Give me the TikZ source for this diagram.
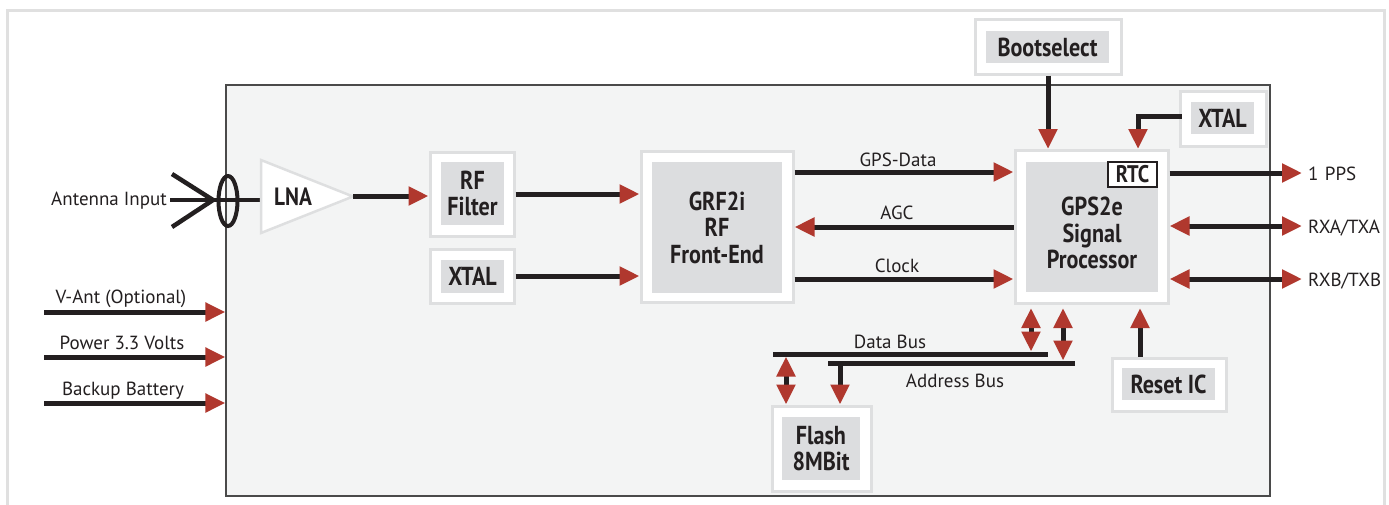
\documentclass[tikz,border=0pt]{standalone}
\usepackage{fontspec}
\setmainfont{PT Sans}
\newfontfamily\condb{PT Sans}[FakeStretch=0.85]
\usetikzlibrary{arrows.meta,calc}
\definecolor{arrred}{HTML}{B0382E}
\definecolor{lineblack}{HTML}{231F20}
\definecolor{txt}{HTML}{231F20}
\definecolor{boxline}{HTML}{DEDFE0}
\definecolor{innergray}{HTML}{DCDDDF}
\definecolor{modfill}{HTML}{F3F4F4}
\definecolor{modline}{HTML}{4A4A4A}
\definecolor{frame}{HTML}{E0E0E0}
\tikzset{
  obox/.style={draw=boxline, line width=3pt, fill=white, inner sep=0pt},
  ibox/.style={fill=innergray, inner sep=0pt, align=center, text=txt,
    font=\condb\bfseries\fontsize{26}{26.5}\selectfont},
  conn/.style={draw=lineblack, line width=5pt, -{Triangle[length=20pt,width=18pt,color=arrred]}},
  dconn/.style={draw=lineblack, line width=5pt, {Triangle[length=20pt,width=18pt,color=arrred]}-{Triangle[length=20pt,width=18pt,color=arrred]}},
  wire/.style={draw=lineblack, line width=5pt},
  lab/.style={font=\fontsize{19}{22}\selectfont, text=txt, inner sep=0pt},
}
\begin{document}
\begin{tikzpicture}[x=1pt,y=-1pt]
\useasboundingbox (0,0) rectangle (1389,504);
\fill[white] (0,0) rectangle (1389,504);
% outer frame
\draw[frame, line width=3pt] (7,10) rectangle (1384,530);
% module
\node[draw=modline, line width=1.2pt, fill=modfill, minimum width=1044pt, minimum height=411pt, inner sep=0pt] (mod) at (748,290.5) {};

% antenna
\coordinate (antin) at (170,200);
\coordinate (lnain) at (261,200);
\draw[wire, line width=4.5pt] (antin) -- (lnain);
\draw[wire, line width=4.5pt] (172,174) -- (213,200) -- (172,227);
\draw[lineblack, line width=4pt] (228,201) ellipse [x radius=9.5pt, y radius=25pt];
\node[lab, anchor=base east] (antlab) at (167,205) {Antenna Input};

% LNA
\draw[boxline, line width=2.5pt, fill=white] (261,160) -- (353,196.5) -- (261,233) -- cycle;
\coordinate (lnaout) at (353,196);
\node[font=\condb\bfseries\fontsize{25}{26}\selectfont, text=txt, inner sep=0pt] (lna) at (293,197) {LNA};

% boxes
\node[obox, minimum width=84pt, minimum height=84pt] (rff) at (472,194) {};
\node[ibox, minimum width=63pt, minimum height=63pt] (rffi) at (472.5,193.5) {RF\\Filter};
\node[obox, minimum width=84pt, minimum height=54pt] (xtal1) at (472,276) {};
\node[ibox, minimum width=63pt, minimum height=33pt] (xtal1i) at (472.5,276.5) {XTAL};
\node[obox, minimum width=152pt, minimum height=151pt] (grf) at (717,227) {};
\node[ibox, minimum width=130pt, minimum height=131pt] (grfi) at (717,227.5) {GRF2i\\RF\\Front-End};
\node[obox, minimum width=153pt, minimum height=153pt] (gps) at (1091.5,227) {};
\node[ibox, minimum width=132pt, minimum height=130pt] (gpsi) at (1092,227) {};
\node[ibox, fill=none] (gpst) at (1092,233) {GPS2e\\Signal\\Processor};
\node[draw=lineblack, line width=1.2pt, fill=white, minimum width=49pt, minimum height=25pt, inner sep=0pt, text=txt,
  font=\condb\bfseries\fontsize{24}{24}\selectfont] (rtc) at (1132.5,174.5) {RTC};
\node[obox, minimum width=146pt, minimum height=55pt] (boot) at (1048,46.5) {};
\node[ibox, minimum width=123pt, minimum height=32pt] (booti) at (1047.5,47) {Bootselect};
\node[obox, minimum width=86pt, minimum height=55pt] (xtal2) at (1223,118.5) {};
\node[ibox, minimum width=63pt, minimum height=32pt] (xtal2i) at (1222.5,118) {XTAL};
\node[obox, minimum width=99pt, minimum height=85pt] (flash) at (821.5,448.5) {};
\node[ibox, minimum width=78pt, minimum height=63pt] (flashi) at (821,448.5) {Flash\\8MBit};
\node[obox, minimum width=114pt, minimum height=53pt] (reset) at (1169,384.5) {};
\node[ibox, minimum width=93pt, minimum height=32pt] (reseti) at (1168.5,384) {Reset IC};

% signal flow
\draw[conn] (lnaout) -- (rff.west |- lnaout);
\draw[conn] (rff.east) -- (rff.east -| grf.west);
\draw[conn] (xtal1.east) -- (xtal1.east -| grf.west);
\draw[conn] ([yshift=55pt]grf.east) -- ([yshift=55pt]gps.west);
\draw[conn] (gps.west) -- (grf.east);
\draw[conn] ([yshift=-52pt]grf.east) -- ([yshift=-52pt]gps.west);
\node[lab, anchor=base] (gdl) at (898,166) {GPS-Data};
\node[lab, anchor=base] (agcl) at (897,219) {AGC};
\node[lab, anchor=base] (clkl) at (897,272) {Clock};

% boot / rtc xtal
\draw[conn] (boot.south) -- (boot.south |- gps.north);
\coordinate (xtalout) at (1181.5,116);
\draw[conn] (xtalout) -| ([xshift=46.5pt]gps.north);

% outputs
\coordinate (pps) at (1302,173);
\coordinate (rxa) at (1302,226);
\coordinate (rxb) at (1302,279);
\draw[conn] (gps.east |- pps) -- (pps);
\draw[dconn] (gps.east |- rxa) -- (rxa);
\draw[dconn] (gps.east |- rxb) -- (rxb);
\node[lab, anchor=base west] (ppsl) at (1308,180) {1\,\,PPS};
\node[lab, anchor=base west] (rxal) at (1308,233) {RXA/TXA};
\node[lab, anchor=base west] (rxbl) at (1308,286) {RXB/TXB};

% buses
\coordinate (d1) at (773,354);
\coordinate (d2) at (1048,354);
\coordinate (a1) at (828,363);
\coordinate (a2) at (1075,363);
\draw[wire] (d1) -- (d2);
\draw[wire] (a1) -- (a2);
\node[lab, anchor=base] (dbl) at (890,348) {Data Bus};
\node[lab, anchor=base] (abl) at (955,387) {Address Bus};
\draw[dconn, shorten <=3pt, shorten >=2.5pt] ([xshift=-60.5pt]gps.south) -- ([xshift=-60.5pt]gps.south |- d1);
\draw[dconn, shorten <=3pt, shorten >=2.5pt] ([xshift=-28.5pt]gps.south) -- ([xshift=-28.5pt]gps.south |- a1);
\draw[dconn, shorten <=2.5pt] ([xshift=-35.5pt]flash.north |- d1) -- ([xshift=-35.5pt]flash.north);
\draw[conn] ([xshift=18.5pt]flash.north |- a1) -- ([xshift=18.5pt]flash.north);
\draw[conn, shorten >=3pt] ([xshift=-29pt]reset.north) -- ([xshift=-29pt]reset.north |- gps.south);

% power inputs
\coordinate (vant) at (44,312);
\coordinate (pwr) at (44,357);
\coordinate (bat) at (44,403);
\draw[conn] (vant) -- (vant -| mod.west);
\draw[conn] (pwr) -- (pwr -| mod.west);
\draw[conn] (bat) -- (bat -| mod.west);
\node[lab, anchor=base] (vantl) at (121,303) {V-Ant (Optional)};
\node[lab, anchor=base] (pwrl) at (122,349) {Power 3.3 Volts};
\node[lab, anchor=base] (batl) at (123,395) {Backup Battery};
\end{tikzpicture}
\end{document}
